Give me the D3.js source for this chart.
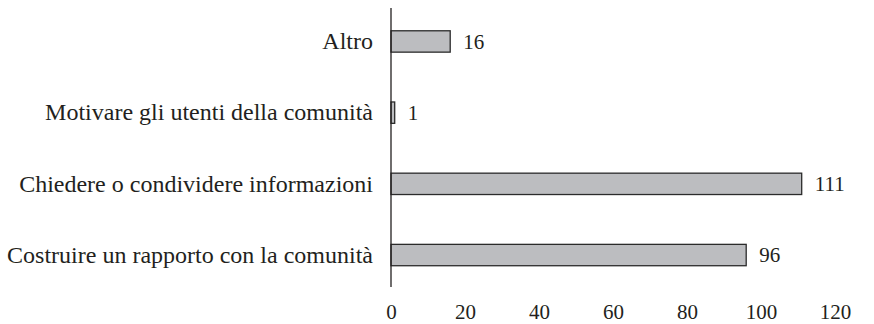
<!DOCTYPE html>
<html>
<head>
<meta charset="utf-8">
<script src="https://cdn.jsdelivr.net/npm/d3@7"></script>
<style>
  html, body { margin: 0; padding: 0; background: #fff; }
  svg { display: block; }
  text { font-family: "Liberation Serif", "Times New Roman", serif; fill: #231f20; }
</style>
</head>
<body>
<svg id="chart" width="874" height="324"></svg>
<script>
// Categories from top to bottom, with their counts
const categories = [
  "Altro",
  "Motivare gli utenti della comunità",
  "Chiedere o condividere informazioni",
  "Costruire un rapporto con la comunità"
];
const counts = [16, 1, 111, 96];
const xTicks = [0, 20, 40, 60, 80, 100, 120];

const svg = d3.select("#chart");
const plotLeft = 391, plotRight = 835, plotTop = 8, plotBottom = 288.5;
const labelSize = 24;
const numberSize = 21;

const x = d3.scaleLinear().domain([0, 120]).range([plotLeft, plotRight]);
const y = d3.scaleBand().domain(categories).range([plotTop, plotBottom]).paddingInner(0.7).paddingOuter(0.32);

const rows = categories.map((c, i) => ({ category: c, value: counts[i] }));

// Bars
svg.append("g").selectAll("rect")
  .data(rows)
  .join("rect")
  .attr("x", x(0))
  .attr("y", d => y(d.category))
  .attr("width", d => x(d.value) - x(0))
  .attr("height", y.bandwidth())
  .attr("fill", "#bcbdc0")
  .attr("stroke", "#2b2b2b")
  .attr("stroke-width", 1.3);

// Value labels
svg.append("g").selectAll("text")
  .data(rows)
  .join("text")
  .attr("x", d => x(d.value) + 13)
  .attr("y", d => y(d.category) + y.bandwidth() / 2)
  .attr("dy", "0.35em")
  .attr("font-size", numberSize)
  .text(d => d.value);

// Category axis (vertical line, no ticks)
const yAxis = svg.append("g")
  .attr("transform", `translate(${plotLeft},0)`)
  .call(d3.axisLeft(y).tickSize(0).tickPadding(18));
yAxis.select(".domain").remove();
yAxis.append("line")
  .attr("x1", 0).attr("x2", 0)
  .attr("y1", plotTop).attr("y2", plotBottom - 1.5)
  .attr("stroke", "#231f20").attr("stroke-width", 1.3);
yAxis.selectAll("text")
  .attr("font-size", labelSize)
  .attr("font-family", "Liberation Serif, Times New Roman, serif")
  .attr("fill", "#231f20");

// Value axis (labels only)
const xAxis = svg.append("g")
  .attr("transform", `translate(0,${plotBottom})`)
  .call(d3.axisBottom(x).tickValues(xTicks).tickSize(0).tickPadding(16).tickFormat(d3.format("d")));
xAxis.select(".domain").remove();
xAxis.selectAll("text")
  .attr("font-size", numberSize)
  .attr("font-family", "Liberation Serif, Times New Roman, serif")
  .attr("fill", "#231f20");
</script>
</body>
</html>
